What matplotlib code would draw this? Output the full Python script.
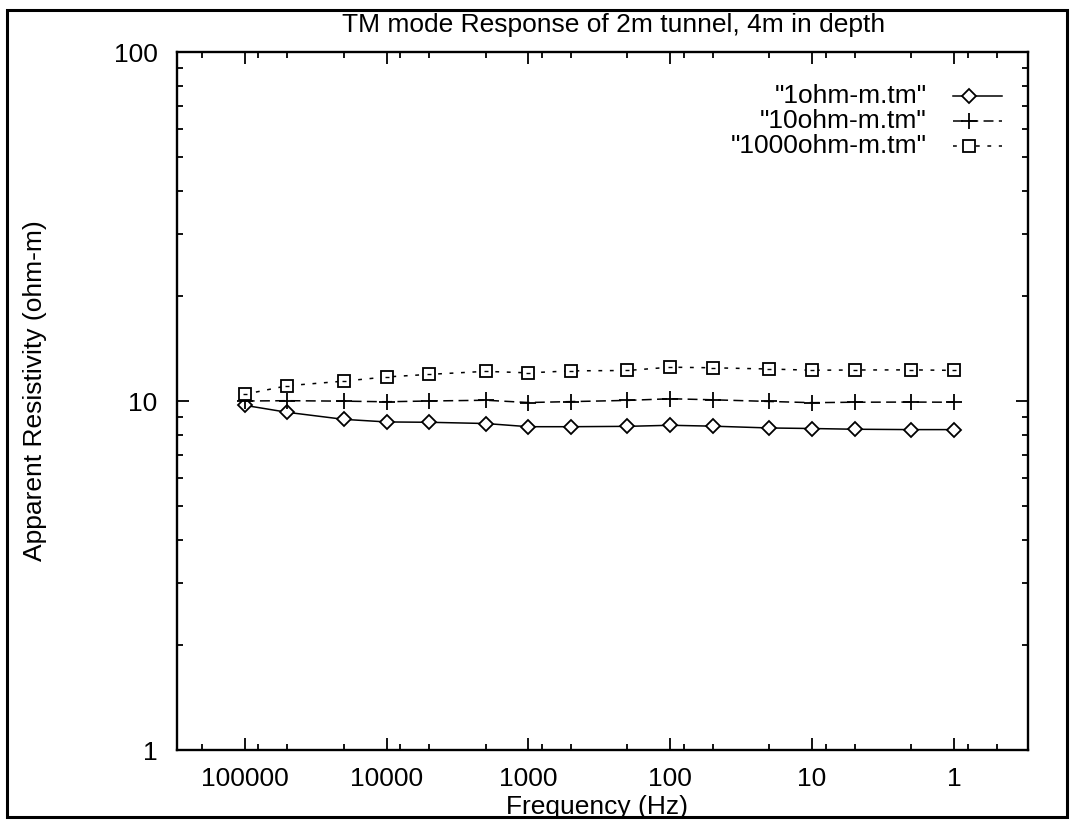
import matplotlib.pyplot as plt
from matplotlib.lines import Line2D
from matplotlib.patches import Rectangle
from matplotlib.ticker import FixedLocator, NullFormatter, LogLocator

plt.rcParams['font.family'] = ['Liberation Sans', 'DejaVu Sans']

# frequencies (Hz) and apparent resistivity (ohm-m)
freq = [100000, 50000, 20000, 10000, 5000, 2000, 1000, 500, 200, 100, 50, 20, 10, 5, 2, 1]
rho_1 = [9.72, 9.28, 8.86, 8.71, 8.69, 8.62, 8.44, 8.44, 8.46, 8.52, 8.47, 8.37, 8.34, 8.30, 8.28, 8.28]
rho_10 = [10.0, 10.02, 9.99, 9.95, 10.0, 10.05, 9.9, 9.96, 10.04, 10.15, 10.08, 9.97, 9.89, 9.92, 9.93, 9.92]
rho_1000 = [10.45, 11.06, 11.40, 11.72, 11.92, 12.16, 12.04, 12.2, 12.23, 12.5, 12.45, 12.35, 12.25, 12.27, 12.28, 12.24]
labels = ['"1ohm-m.tm"', '"10ohm-m.tm"', '"1000ohm-m.tm"']

x_major = [100000, 10000, 1000, 100, 10, 1]
x_major_labels = ['100000', '10000', '1000', '100', '10', '1']

styles = [
    dict(color='black', lw=1.1, linestyle='-', marker='D', ms=7.5, mfc='white', mec='black', mew=1.3),
    dict(color='black', lw=1.1, linestyle=(0, (6.5, 3.5)), marker='+', ms=11, mew=1.3),
    dict(color='black', lw=1.1, linestyle=(0, (2.5, 5)), marker='s', ms=8.5, mfc='white', mec='black', mew=1.3),
]

fs = 19
fig = plt.figure(figsize=(10.7, 8.22), dpi=100)
ax = fig.add_axes([177 / 1070, 72 / 822, 851 / 1070, 698 / 822])

for rho, st in zip([rho_1, rho_10, rho_1000], styles):
    ax.plot(freq, rho, **st)
# little centre dot gnuplot leaves inside the squares
ax.plot(freq, rho_1000, linestyle='none', marker='_', ms=3, mew=1.0, color='black')

ax.set_xscale('log')
ax.set_yscale('log')
ax.set_xlim(3e5, 0.3)
ax.set_ylim(1, 100)

ax.xaxis.set_major_locator(FixedLocator(x_major))
ax.set_xticklabels(x_major_labels)
x_minor = [m * d for d in [1e5, 1e4, 1e3, 100, 10, 1, 0.1] for m in [2, 5, 8]]
ax.xaxis.set_minor_locator(FixedLocator(x_minor))
ax.xaxis.set_minor_formatter(NullFormatter())

ax.set_yticks([1, 10, 100])
ax.set_yticklabels(['1', '10', '100'])
ax.yaxis.set_minor_locator(LogLocator(base=10, subs=range(2, 10)))
ax.yaxis.set_minor_formatter(NullFormatter())

ax.tick_params(which='both', direction='in', top=True, right=True, width=1.3, labelsize=fs)
ax.tick_params(which='major', length=8.5)
ax.tick_params(which='minor', length=4.5)
ax.tick_params(axis='x', which='major', pad=12)
ax.tick_params(axis='y', which='major', pad=14)
for sp in ax.spines.values():
    sp.set_linewidth(1.7)

ax.set_xlabel('Frequency (Hz)', fontsize=fs)
ax.xaxis.set_label_coords(0.4935, -0.064)
ax.set_ylabel('Apparent Resistivity (ohm-m)', fontsize=fs)
ax.yaxis.set_label_coords(-0.153, 0.515)
fig.text(614 / 1070, 1 - 25 / 822, 'TM mode Response of 2m tunnel, 4m in depth',
         fontsize=fs, ha='center', va='center')

# gnuplot-style key: right-aligned text, sample line to its right
key_y = [0.937, 0.901, 0.865]
for lab, st, yk in zip(labels, styles, key_y):
    ax.text(0.8813, yk, lab, transform=ax.transAxes, ha='right', va='center', fontsize=fs)
    line_st = {k: v for k, v in st.items() if k not in ('marker', 'ms', 'mfc', 'mec', 'mew')}
    ax.add_line(Line2D([0.912, 0.9694], [yk, yk], transform=ax.transAxes, **line_st))
    ax.add_line(Line2D([0.9307], [yk], transform=ax.transAxes, linestyle='none',
                       **{k: v for k, v in st.items() if k not in ('linestyle', 'lw')}))

# page frame around the figure
fig.patches.append(Rectangle((7 / 1070, 5 / 822), 1060 / 1070, 807 / 822, fill=False,
                             lw=2.2, edgecolor='black', transform=fig.transFigure))

fig.savefig('out.png', dpi=100)
